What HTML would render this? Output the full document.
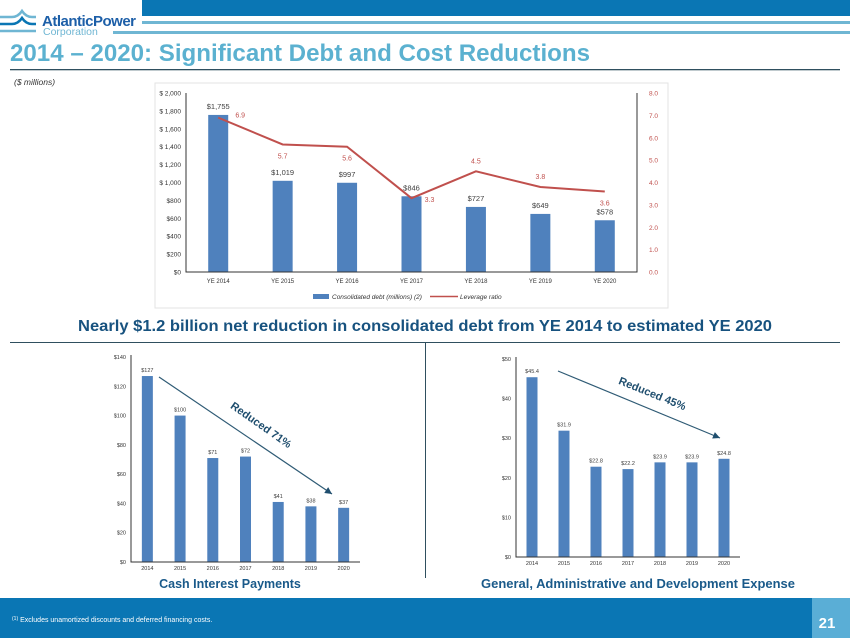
<!DOCTYPE html>
<html><head><meta charset="utf-8">
<style>
html,body{margin:0;padding:0;background:#fff;}
body{width:850px;height:638px;overflow:hidden;position:relative;font-family:"Liberation Sans",Arial,sans-serif;}
svg{position:absolute;left:0;top:0;}
</style></head>
<body>
<svg id="s" width="850" height="638" viewBox="0 0 850 638" xmlns="http://www.w3.org/2000/svg" font-family="Liberation Sans, Arial, sans-serif">
  <rect x="142" y="0" width="708" height="16" fill="#0a76b4"/>
  <rect x="142" y="21" width="708" height="3" fill="#6fb6d3"/>
  <rect x="113" y="31" width="737" height="3" fill="#6fb6d3"/>
  <g fill="none" stroke="#6fb6d3" stroke-width="2.5">
    <path d="M0 17 H12 Q18 17 22 11 Q26 17 32 17 H36"/>
    <path d="M0 24 H12 Q18 24 22 18 Q26 24 32 24 H36" stroke="#0a76b4"/>
    <path d="M0 31 H36"/>
  </g>
  <text x="42" y="26" font-size="15" font-weight="bold" fill="#1d5fa8" letter-spacing="-0.5">AtlanticPower</text>
  <text x="43" y="35" font-size="10.5" fill="#6fb6d3">Corporation</text>
  <text x="10" y="61" font-size="24" font-weight="bold" fill="#5bb1d0" textLength="580" lengthAdjust="spacingAndGlyphs">2014 – 2020:  Significant Debt and Cost Reductions</text>
  <rect x="10" y="69" width="830" height="1.3" fill="#2f4f5f"/>
  <text x="14" y="85" font-size="8.5" font-style="italic" fill="#333">($ millions)</text>

  <rect x="155" y="83" width="513" height="225" fill="#fff" stroke="#e3e3e3"/>
  <g id="main"></g>

  <text x="78" y="331" font-size="15.5" font-weight="bold" fill="#17527f" textLength="694" lengthAdjust="spacingAndGlyphs">Nearly $1.2 billion net reduction in consolidated debt from YE 2014 to estimated YE 2020</text>
  <rect x="10" y="342" width="830" height="1" fill="#2f4f5f"/>
  <rect x="425" y="343" width="1" height="235" fill="#2f4f5f"/>

  <g id="c2"></g>
  <g id="c3"></g>

  <text x="230" y="588" text-anchor="middle" font-size="12.5" font-weight="bold" fill="#1a5a8a">Cash Interest Payments</text>
  <text x="638" y="588" text-anchor="middle" font-size="12.5" font-weight="bold" fill="#1a5a8a" textLength="314" lengthAdjust="spacingAndGlyphs">General, Administrative and Development Expense</text>

  <rect x="0" y="598" width="850" height="40" fill="#0a76b4"/>
  <rect x="812" y="598" width="38" height="40" fill="#5aaed6"/>
  <text x="827" y="628" text-anchor="middle" font-size="15" font-weight="bold" fill="#fff">21</text>
  <text x="12" y="622" font-size="7" fill="#fff"><tspan font-size="5" dy="-2">(1)</tspan><tspan dy="2"> Excludes unamortized discounts and deferred financing costs.</tspan></text>
</svg>
<script>
const NS="http://www.w3.org/2000/svg";
const debtYears=["YE 2014","YE 2015","YE 2016","YE 2017","YE 2018","YE 2019","YE 2020"];
const debtValues=[1755,1019,997,846,727,649,578];
const debtLabels=["$1,755","$1,019","$997","$846","$727","$649","$578"];
const leverageValues=[6.9,5.7,5.6,3.3,4.5,3.8,3.6];
const leftTicks=[0,200,400,600,800,1000,1200,1400,1600,1800,2000];
const leftTickLabels=["$0","$200","$400","$600","$800","$ 1,000","$ 1,200","$ 1,400","$ 1,600","$ 1,800","$ 2,000"];
const rightTicks=[0,1,2,3,4,5,6,7,8];
const intYears=["2014","2015","2016","2017","2018","2019","2020"];
const intValues=[127,100,71,72,41,38,37];
const intTicks=[0,20,40,60,80,100,120,140];
const gaYears=["2014","2015","2016","2017","2018","2019","2020"];
const gaValues=[45.4,31.9,22.8,22.2,23.9,23.9,24.8];
const gaTicks=[0,10,20,30,40,50];

function el(tag,attrs,parent,txt){const e=document.createElementNS(NS,tag);for(const k in attrs)e.setAttribute(k,attrs[k]);if(txt!==undefined)e.textContent=txt;parent.appendChild(e);return e;}

(function(){
  const g=document.getElementById('main');
  const x0=186,x1=637,yT=93,yB=272;
  const yL=v=>yB-(v/2000)*(yB-yT);
  const yR=v=>yB-(v/8)*(yB-yT);
  const step=(x1-x0)/debtYears.length;
  const xc=i=>x0+step*(i+0.5);
  leftTicks.forEach((t,i)=>{const e=el('text',{x:x0-5,y:yL(t)+2.5,'text-anchor':'end','font-size':6.5,fill:'#333'},g,leftTickLabels[i]);
    
    });
  rightTicks.forEach(t=>{const e=el('text',{x:x1+12,y:yR(t)+2.5,'font-size':6.5,fill:'#c0504d'},g,t.toFixed(1));
    
    });
  debtValues.forEach((v,i)=>{
    const b=el('rect',{x:xc(i)-10,y:yL(v),width:20,height:yB-yL(v),fill:'#4f81bd'},g);
    
    
    const l=el('text',{x:xc(i),y:yL(v)-6,'text-anchor':'middle','font-size':7.5,fill:'#404040'},g,debtLabels[i]);
    
    
    const c=el('text',{x:xc(i),y:yB+11,'text-anchor':'middle','font-size':6,fill:'#333'},g,debtYears[i]);
    
    
  });
  const ax=el('path',{d:`M${x0} ${yT} V${yB} H${x1} V${yT}`,fill:'none',stroke:'#333','stroke-width':1},g);
  
  
  const pts=leverageValues.map((v,i)=>xc(i)+','+yR(v)).join(' ');
  const ln=el('polyline',{points:pts,fill:'none',stroke:'#c0504d','stroke-width':2},g);
  
  
  const offs=[[22,0],[0,14],[0,14],[18,4],[0,-8],[0,-8],[0,14]];
  leverageValues.forEach((v,i)=>{
    const t=el('text',{x:xc(i)+offs[i][0],y:yR(v)+offs[i][1],'text-anchor':'middle','font-size':7,fill:'#c0504d'},g,v.toFixed(1));
    
    
  });
  const lg=el('g',{},g);
  
  
  el('rect',{x:313,y:294,width:16,height:5,fill:'#4f81bd'},lg);
  el('text',{x:332,y:299,'font-size':6.5,'font-style':'italic',fill:'#333'},lg,'Consolidated debt (millions) (2)');
  el('line',{x1:430,y1:296.5,x2:458,y2:296.5,stroke:'#c0504d','stroke-width':1.5},lg);
  el('text',{x:460,y:299,'font-size':6.5,'font-style':'italic',fill:'#333'},lg,'Leverage ratio');
})();

function small(gid,years,vals,ticks,max,x0,x1,yT,yB,fmt,tfmt,arrow,atext,aang,aX,aY,name){
  const g=document.getElementById(gid);
  const y=v=>yB-(v/max)*(yB-yT);
  const step=(x1-x0)/years.length;
  const xc=i=>x0+step*(i+0.5);
  ticks.forEach(t=>{const e=el('text',{x:x0-5,y:y(t)+2,'text-anchor':'end','font-size':5.5,fill:'#333'},g,tfmt(t));
    
    });
  vals.forEach((v,i)=>{
    const b=el('rect',{x:xc(i)-5.5,y:y(v),width:11,height:yB-y(v),fill:'#4f81bd'},g);
    
    
    const l=el('text',{x:xc(i),y:y(v)-4,'text-anchor':'middle','font-size':5.5,fill:'#404040'},g,fmt(v));
    
    
    const c=el('text',{x:xc(i),y:yB+8,'text-anchor':'middle','font-size':5.5,fill:'#333'},g,years[i]);
    
    
  });
  const ax=el('path',{d:`M${x0} ${yT-2} V${yB} H${x1}`,fill:'none',stroke:'#333','stroke-width':1},g);
  
  
  const [ax1,ay1,ax2,ay2]=arrow;
  const ar=el('line',{x1:ax1,y1:ay1,x2:ax2,y2:ay2,stroke:'#2f5b75','stroke-width':1.2},g);
  
  
  const a=Math.atan2(ay2-ay1,ax2-ax1);
  const h=7;
  const p=[[ax2,ay2],[ax2-h*Math.cos(a)+3.5*Math.sin(a),ay2-h*Math.sin(a)-3.5*Math.cos(a)],[ax2-h*Math.cos(a)-3.5*Math.sin(a),ay2-h*Math.sin(a)+3.5*Math.cos(a)]];
  const hd=el('polygon',{points:p.map(q=>q.join(',')).join(' '),fill:'#1f4e6e'},g);
  
  
  const t=el('text',{x:aX,y:aY,'text-anchor':'middle','font-size':11,'font-weight':'bold',fill:'#1f4e6e',transform:`rotate(${aang} ${aX} ${aY})`},g,atext);
  
  
}
small('c2',intYears,intValues,intTicks,140,131,360,357,562,v=>'$'+v,t=>'$'+t,[159,377,332,494],'Reduced 71%',35,259,428,'interest');
small('c3',gaYears,gaValues,gaTicks,50,516,740,359,557,v=>'$'+v.toFixed(1),t=>'$'+t,[558,371,720,438],'Reduced 45%',22,651,397,'ga');
</script>
</body></html>
